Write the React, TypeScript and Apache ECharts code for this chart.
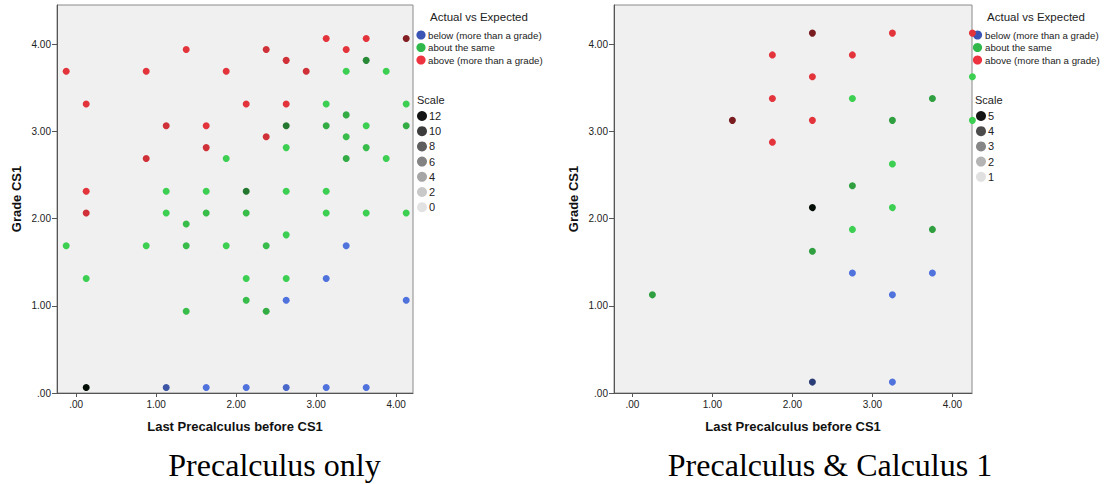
import { useEffect, useRef } from "react";
import * as echarts from "echarts";

const categories = ["below (more than a grade)", "about the same", "above (more than a grade)"];
const legendColors = ["#3a55b4", "#30b94a", "#ee3340"];
const pointColors = ["#5072dc", "#3dcf52", "#e3343c"];

const xTicks = [0, 1, 2, 3, 4];
const yTicks = [0, 1, 2, 3, 4];

const xTitle = "Last Precalculus before CS1";
const yTitle = "Grade CS1";
const legendTitle = "Actual vs Expected";
const scaleTitle = "Scale";
const leftScaleLabels = [12, 10, 8, 6, 4, 2, 0];
const rightScaleLabels = [5, 4, 3, 2, 1];
const leftScaleGrays = ["#141414", "#3c3c3c", "#5e5e5e", "#838383", "#a6a6a6", "#c8c8c8", "#e2e2e2"];
const rightScaleGrays = ["#141414", "#4c4c4c", "#868686", "#b4b4b4", "#e0e0e0"];
const captions = ["Precalculus only", "Precalculus & Calculus 1"];

// [x, y, count]
const leftBelow = [
  [3.375, 1.6875, 1], [3.125, 1.3125, 1], [2.625, 1.0625, 1], [4.125, 1.0625, 1],
  [1.125, 0.0625, 4], [1.625, 0.0625, 1], [2.125, 0.0625, 1], [2.625, 0.0625, 2],
  [3.125, 0.0625, 1], [3.625, 0.0625, 1],
];
const leftAbout = [
  [3.625, 3.8125, 5], [3.375, 3.6875, 1], [3.875, 3.6875, 1],
  [3.125, 3.3125, 1], [4.125, 3.3125, 1], [3.375, 3.1875, 3],
  [2.625, 3.0625, 6], [3.125, 3.0625, 3], [3.625, 3.0625, 1], [4.125, 3.0625, 3],
  [3.375, 2.9375, 2], [2.625, 2.8125, 1], [3.625, 2.8125, 2],
  [1.875, 2.6875, 1], [3.375, 2.6875, 3], [3.875, 2.6875, 1],
  [1.125, 2.3125, 1], [1.625, 2.3125, 1], [2.125, 2.3125, 6], [2.625, 2.3125, 1], [3.125, 2.3125, 1],
  [1.125, 2.0625, 1], [1.625, 2.0625, 2], [2.125, 2.0625, 2], [3.125, 2.0625, 1], [3.625, 2.0625, 1], [4.125, 2.0625, 1],
  [1.375, 1.9375, 2], [2.625, 1.8125, 1],
  [-0.125, 1.6875, 1], [0.875, 1.6875, 1], [1.375, 1.6875, 2], [1.875, 1.6875, 1], [2.375, 1.6875, 2],
  [0.125, 1.3125, 1], [2.125, 1.3125, 1], [2.625, 1.3125, 1],
  [2.125, 1.0625, 2], [1.375, 0.9375, 2], [2.375, 0.9375, 3],
  [0.125, 0.0625, 12],
];
const leftAbove = [
  [3.125, 4.0625, 1], [3.625, 4.0625, 1], [4.125, 4.0625, 6],
  [1.375, 3.9375, 1], [2.375, 3.9375, 2], [3.375, 3.9375, 1],
  [2.625, 3.8125, 2],
  [-0.125, 3.6875, 1], [0.875, 3.6875, 1], [1.875, 3.6875, 1], [2.875, 3.6875, 2],
  [0.125, 3.3125, 1], [2.125, 3.3125, 1], [2.625, 3.3125, 1],
  [1.125, 3.0625, 2], [1.625, 3.0625, 1],
  [2.375, 2.9375, 2], [1.625, 2.8125, 2], [0.875, 2.6875, 2],
  [0.125, 2.3125, 1], [0.125, 2.0625, 2],
];

const rightBelow = [
  [2.75, 1.375, 1], [3.75, 1.375, 1], [3.25, 1.125, 1], [2.25, 0.125, 3], [3.25, 0.125, 1],
];
const rightAbout = [
  [4.25, 3.625, 1], [2.75, 3.375, 1], [3.75, 3.375, 2], [3.25, 3.125, 2], [4.25, 3.125, 1],
  [3.25, 2.625, 1], [2.75, 2.375, 2], [2.25, 2.125, 5], [3.25, 2.125, 1],
  [2.75, 1.875, 1], [3.75, 1.875, 2], [2.25, 1.625, 2], [0.25, 1.125, 2],
];
const rightAbove = [
  [2.25, 4.125, 3], [3.25, 4.125, 1], [4.25, 4.125, 1],
  [1.75, 3.875, 1], [2.75, 3.875, 1], [2.25, 3.625, 1], [1.75, 3.375, 1],
  [1.25, 3.125, 3], [2.25, 3.125, 1], [1.75, 2.875, 1],
];

function shade(hex: string, f: number) {
  const n = parseInt(hex.slice(1), 16);
  const r = Math.round(((n >> 16) & 255) * (1 - f));
  const g = Math.round(((n >> 8) & 255) * (1 - f));
  const b = Math.round((n & 255) * (1 - f));
  return `rgb(${r},${g},${b})`;
}

const SANS = "Liberation Sans, Arial, sans-serif";

export default function App() {
  const ref = useRef<HTMLDivElement>(null);
  useEffect(() => {
    document.body.style.margin = "0";
    const chart = echarts.init(ref.current!, null, { renderer: "svg" });
    const grids = [
      { left: 57, top: 5, width: 356, height: 388 },
      { left: 614, top: 5, width: 358, height: 388 },
    ];
    const xRanges = [[-0.24, 4.21], [-0.23, 4.245]];
    const yMax = 4.447;
    const fmt = (v: number) => (v === 0 ? ".00" : v.toFixed(2));

    const xAxis = xRanges.map((r, i) => ({
      type: "value",
      gridIndex: i,
      min: r[0],
      max: r[1],
      splitLine: { show: false },
      axisLine: { show: true, onZero: false, lineStyle: { color: "#555", width: 1 } },
      axisTick: { show: true, length: 4, customValues: xTicks, lineStyle: { color: "#555" } },
      axisLabel: { customValues: xTicks, formatter: fmt, fontSize: 10, color: "#222", fontFamily: SANS, margin: 6 },
      name: xTitle,
      nameLocation: "middle",
      nameGap: 27,
      nameTextStyle: { fontSize: 13, fontWeight: "bold", color: "#111", fontFamily: SANS },
    }));
    const yAxis = [0, 1].map((i) => ({
      type: "value",
      gridIndex: i,
      min: 0,
      max: yMax,
      splitLine: { show: false },
      axisLine: { show: true, onZero: false, lineStyle: { color: "#555", width: 1 } },
      axisTick: { show: true, length: 5, customValues: yTicks, lineStyle: { color: "#555" } },
      axisLabel: { customValues: yTicks, formatter: fmt, fontSize: 10, color: "#222", fontFamily: SANS, margin: 6 },
      name: yTitle,
      nameLocation: "middle",
      nameGap: 34,
      nameTextStyle: { fontSize: 13, fontWeight: "bold", color: "#111", fontFamily: SANS },
    }));

    const sets = [
      { data: [leftBelow, leftAbout, leftAbove], max: 12 },
      { data: [rightBelow, rightAbout, rightAbove], max: 5 },
    ];
    const series: any[] = [];
    sets.forEach((s, gi) => {
      s.data.forEach((arr, ci) => {
        series.push({
          type: "scatter",
          name: categories[ci],
          xAxisIndex: gi,
          yAxisIndex: gi,
          symbol: "circle",
          symbolSize: 7,
          clip: false,
          itemStyle: { color: legendColors[ci], opacity: 1 },
          data: arr.map((p) => ({
            value: [p[0], p[1]],
            itemStyle: { opacity: 1, color: shade(pointColors[ci], (0.93 * (p[2] - 1)) / (s.max - 1)) },
          })),
        });
      });
    });

    const graphic: any[] = [];
    const legendDefs = [
      { titleX: 479, iconX: 421, textX: 428, scaleX: 417, scaleIconX: 422, scaleTextX: 429, labels: leftScaleLabels, grays: leftScaleGrays },
      { titleX: 1036, iconX: 977.5, textX: 985, scaleX: 975, scaleIconX: 981, scaleTextX: 988, labels: rightScaleLabels, grays: rightScaleGrays },
    ];
    legendDefs.forEach((d) => {
      graphic.push({
        type: "text", x: d.titleX, y: 17,
        style: { text: legendTitle, fill: "#222", font: `11.5px ${SANS}`, textAlign: "center", textVerticalAlign: "middle" },
      });
      categories.forEach((c, i) => {
        const cy = 35 + i * 12.5;
        graphic.push({ type: "circle", shape: { cx: d.iconX, cy, r: 4.6 }, style: { fill: legendColors[i] } });
        graphic.push({
          type: "text", x: d.textX, y: cy,
          style: { text: c, fill: "#222", font: `9.7px ${SANS}`, textVerticalAlign: "middle" },
        });
      });
      graphic.push({
        type: "text", x: d.scaleX, y: 100,
        style: { text: scaleTitle, fill: "#222", font: `11px ${SANS}`, textVerticalAlign: "middle" },
      });
      d.labels.forEach((l, i) => {
        const cy = 116 + i * 15.2;
        graphic.push({ type: "circle", shape: { cx: d.scaleIconX, cy, r: 5 }, style: { fill: d.grays[i] } });
        graphic.push({
          type: "text", x: d.scaleTextX, y: cy,
          style: { text: String(l), fill: "#222", font: `11px ${SANS}`, textVerticalAlign: "middle" },
        });
      });
    });
    [274.5, 830].forEach((cx, i) => {
      graphic.push({
        type: "text", x: cx, y: 465,
        style: { text: captions[i], fill: "#000", font: `32px "Liberation Serif", "Times New Roman", serif`, textAlign: "center", textVerticalAlign: "middle" },
      });
    });

    chart.setOption({
      animation: false,
      backgroundColor: "#fff",
      grid: grids.map((g) => ({ ...g, show: true, backgroundColor: "#f0f0f0", borderColor: "#8a8a8a", borderWidth: 1, containLabel: false })),
      xAxis,
      yAxis,
      series,
      graphic,
    });
    return () => chart.dispose();
  }, []);
  return <div ref={ref} style={{ width: 1107, height: 484 }} />;
}
